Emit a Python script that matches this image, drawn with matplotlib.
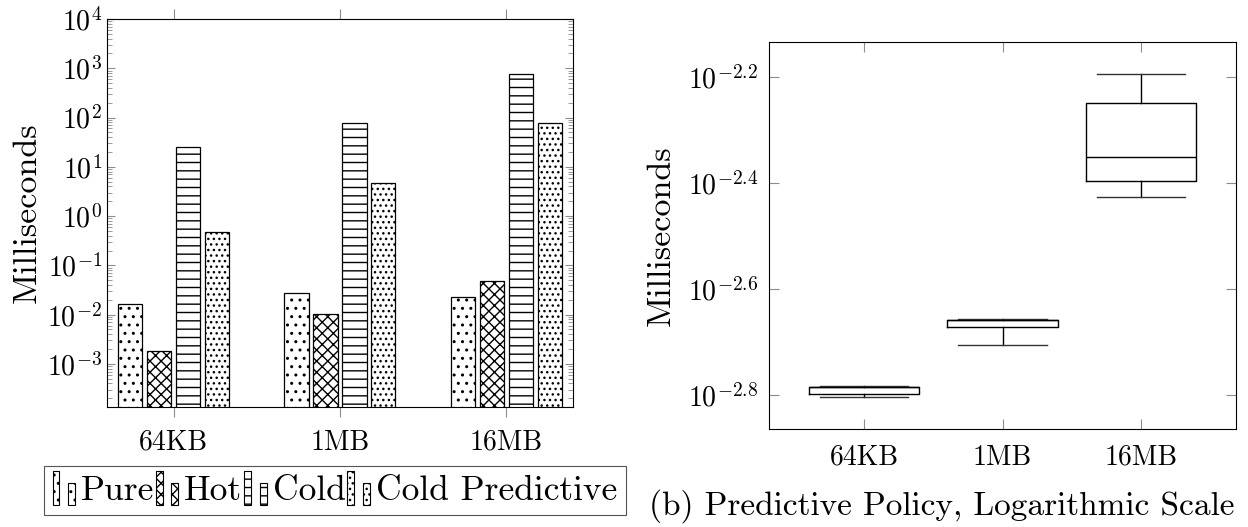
import matplotlib
matplotlib.use("Agg")
import matplotlib.pyplot as plt
import numpy as np
from matplotlib.patches import Rectangle, Patch
from matplotlib.legend_handler import HandlerBase
from matplotlib.ticker import LogLocator, FixedLocator, FixedFormatter, NullLocator

plt.rcParams["font.family"] = "cmr10"
plt.rcParams["mathtext.fontset"] = "cm"
plt.rcParams["axes.formatter.use_mathtext"] = True
plt.rcParams["hatch.linewidth"] = 1.0

sizes = ["64KB", "1MB", "16MB"]

# (a) bar chart, milliseconds
policies = ["Pure", "Hot", "Cold", "Cold Predictive"]
hatches = ["..", "xxx", "--", "..."]
pure = [0.0168, 0.0277, 0.0225]
hot = [0.00184, 0.0103, 0.049]
cold = [24.7, 79.0, 760.0]
cold_pred = [0.47, 4.8, 79.0]

# (b) predictive policy box stats, milliseconds
box_whislo = [0.001573, 0.001972, 0.003752]
box_q1 = [0.001590, 0.002133, 0.004011]
box_med = [0.001641, 0.002198, 0.004451]
box_q3 = [0.001641, 0.002198, 0.005643]
box_whishi = [0.001646, 0.002208, 0.006400]
exp_ticks = [-2.8, -2.6, -2.4, -2.2]

grey = "#8c8c8c"


class TwoBarHandler(HandlerBase):
    def create_artists(self, legend, orig_handle, xdescent, ydescent,
                       width, height, fontsize, trans):
        x0, y0 = -xdescent, -ydescent - 0.2 * height
        w = 0.28 * width
        kw = dict(facecolor="white", edgecolor="black", lw=0.8,
                  hatch=orig_handle.get_hatch(), transform=trans)
        r1 = Rectangle((x0, y0), w, 1.35 * height, **kw)
        r2 = Rectangle((x0 + 0.62 * width, y0), w, 0.85 * height, **kw)
        return [r1, r2]


fig = plt.figure(figsize=(12.48, 5.27), dpi=100)
ax1 = fig.add_axes([0.0857, 0.2277, 0.3734, 0.7362])
ax2 = fig.add_axes([0.6162, 0.1860, 0.3742, 0.7343])

x = np.arange(len(sizes))
step = 0.174
width = 0.145
for i, (vals, h) in enumerate(zip([pure, hot, cold, cold_pred], hatches)):
    ax1.bar(x + (i - 1.5) * step, vals, width, facecolor="white",
            edgecolor="black", hatch=h, linewidth=0.9, label=policies[i])
ax1.set_yscale("log")
ax1.set_ylim(10 ** -3.875, 1e4)
ax1.set_xlim(-0.4, 2.4)
ax1.set_xticks(x)
ax1.set_xticklabels(sizes)
ax1.yaxis.set_major_locator(LogLocator(base=10, numticks=20))
ax1.yaxis.set_minor_locator(LogLocator(base=10, subs=np.arange(2, 10), numticks=20))
ax1.tick_params(axis="x", direction="out", top=True, length=7, width=0.8,
                color=grey, labelsize=20, pad=9)
ax1.tick_params(axis="y", which="major", direction="in", right=True,
                length=5.5, width=0.8, color=grey, labelsize=20)
ax1.tick_params(axis="y", which="minor", direction="in", right=True,
                length=3.5, width=0.6, color=grey)
ax1.set_ylabel("Milliseconds", fontsize=24.5)
ax1.yaxis.set_label_coords(-0.14, 0.5)

handles = [Patch(facecolor="white", edgecolor="black", hatch=h) for h in hatches]
leg = fig.legend(handles, policies, loc="lower left",
                 bbox_to_anchor=(0.035, 0.022), ncol=4, fontsize=25.5,
                 handler_map={Patch: TwoBarHandler()}, handlelength=0.7,
                 handletextpad=0.1, columnspacing=0.05, borderpad=0.25,
                 borderaxespad=0, fancybox=False, edgecolor="#555555",
                 framealpha=1)
leg.get_frame().set_linewidth(0.8)

stats = []
for i in range(len(sizes)):
    stats.append(dict(whislo=box_whislo[i], q1=box_q1[i], med=box_med[i],
                      q3=box_q3[i], whishi=box_whishi[i], fliers=[]))
ax2.bxp(stats, positions=x, widths=0.8, capwidths=0.64, showfliers=False,
        boxprops=dict(color="black", lw=1.0),
        medianprops=dict(color="black", lw=1.0),
        whiskerprops=dict(color="black", lw=1.0),
        capprops=dict(color="#333333", lw=1.0))
ax2.set_yscale("log")
ax2.set_ylim(10 ** -2.864, 10 ** -2.134)
ax2.set_xlim(-0.686, 2.686)
ax2.set_xticks(x)
ax2.set_xticklabels(sizes)
ax2.yaxis.set_major_locator(FixedLocator([10 ** e for e in exp_ticks]))
ax2.yaxis.set_major_formatter(FixedFormatter(["$10^{%.1f}$" % e for e in exp_ticks]))
ax2.yaxis.set_minor_locator(NullLocator())
ax2.tick_params(axis="x", direction="in", top=True, length=7, width=0.8,
                color=grey, labelsize=20, pad=11)
ax2.tick_params(axis="y", direction="in", right=True, length=7, width=0.8,
                color=grey, labelsize=20, pad=8)
ax2.set_ylabel("Milliseconds", fontsize=24.5)
ax2.yaxis.set_label_coords(-0.2, 0.5)

fig.text(0.755, 0.04, "(b) Predictive Policy, Logarithmic Scale",
         fontsize=24, ha="center", va="center")

fig.savefig("out.png", dpi=100)
